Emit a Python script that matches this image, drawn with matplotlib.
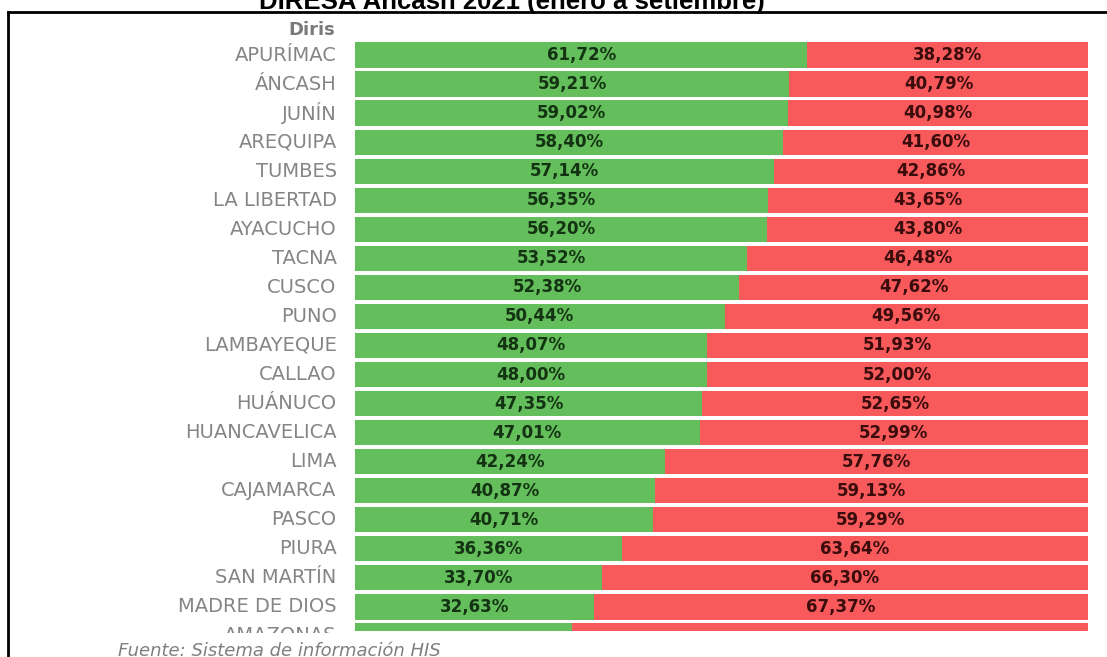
import matplotlib.pyplot as plt
from matplotlib.lines import Line2D
from matplotlib.transforms import Bbox, TransformedBbox, blended_transform_factory

# datos: porcentaje por Diris (verde / rojo)
diris = ["APURÍMAC", "ÁNCASH", "JUNÍN", "AREQUIPA", "TUMBES", "LA LIBERTAD",
         "AYACUCHO", "TACNA", "CUSCO", "PUNO", "LAMBAYEQUE", "CALLAO",
         "HUÁNUCO", "HUANCAVELICA", "LIMA", "CAJAMARCA", "PASCO", "PIURA",
         "SAN MARTÍN", "MADRE DE DIOS", "AMAZONAS"]
verde = [61.72, 59.21, 59.02, 58.40, 57.14, 56.35, 56.20, 53.52, 52.38, 50.44,
         48.07, 48.00, 47.35, 47.01, 42.24, 40.87, 40.71, 36.36, 33.70, 32.63,
         29.60]
rojo = [38.28, 40.79, 40.98, 41.60, 42.86, 43.65, 43.80, 46.48, 47.62, 49.56,
        51.93, 52.00, 52.65, 52.99, 57.76, 59.13, 59.29, 63.64, 66.30, 67.37,
        70.40]

def fmt(v):
    return f"{v:.2f}".replace(".", ",") + "%"

fig = plt.figure(figsize=(11.07, 6.57), dpi=100)
ax = fig.add_axes([355/1107, 1-631/657, 733/1107, (631-40.5)/657])

y = list(range(len(diris)))
ax.barh(y, verde, height=0.87, color="#63BE5B")
ax.barh(y, rojo, left=verde, height=0.87, color="#F85A5C")

# la fila de abajo queda cortada, sin porcentajes visibles
caja_pct = TransformedBbox(Bbox([[0, 1-624/657], [1, 1]]), fig.transFigure)
for i in y:
    for xv, val, col in [(verde[i]/2, verde[i], "#133313"),
                         (verde[i] + rojo[i]/2, rojo[i], "#3a0c0c")]:
        t = ax.text(xv, i, fmt(val), ha="center", va="center",
                    fontsize=12, fontweight="bold", color=col)
        t.set_clip_box(caja_pct)
        t.set_clip_on(True)

ax.set_xlim(0, 100)
ax.set_ylim(19.83, -0.5)
ax.axis("off")

# etiquetas de las Diris (la ultima queda tapada por la nota)
tr = blended_transform_factory(ax.transAxes, ax.transData)
caja = TransformedBbox(Bbox([[0, 1-633/657], [1, 1]]), fig.transFigure)
for i, d in enumerate(diris):
    t = ax.text(-0.025, i, d, transform=tr, ha="right", va="center",
                fontsize=14, color="#858585")
    t.set_clip_box(caja)
    t.set_clip_on(True)

fig.text(335/1107, 1-30/657, "Diris", ha="right", va="center",
         fontsize=13, fontweight="bold", color="#7a7a7a")

fig.text(512/1107, 1-9/657, "DIRESA Áncash 2021 (enero a setiembre)",
         ha="center", va="baseline", fontsize=18.5, fontweight="bold",
         family="Liberation Sans", color="black")

fig.text(118/1107, 1-642/657, "Fuente: Sistema de información HIS",
         ha="left", va="top", fontsize=13, style="italic", color="#7f7f7f")

# recuadro
fig.add_artist(Line2D([8/1107, 1], [1-12/657, 1-12/657], color="black", lw=2,
                      transform=fig.transFigure))
fig.add_artist(Line2D([8/1107, 8/1107], [0, 1-12/657], color="black", lw=2,
                      transform=fig.transFigure))

fig.savefig("out.png", dpi=100)
